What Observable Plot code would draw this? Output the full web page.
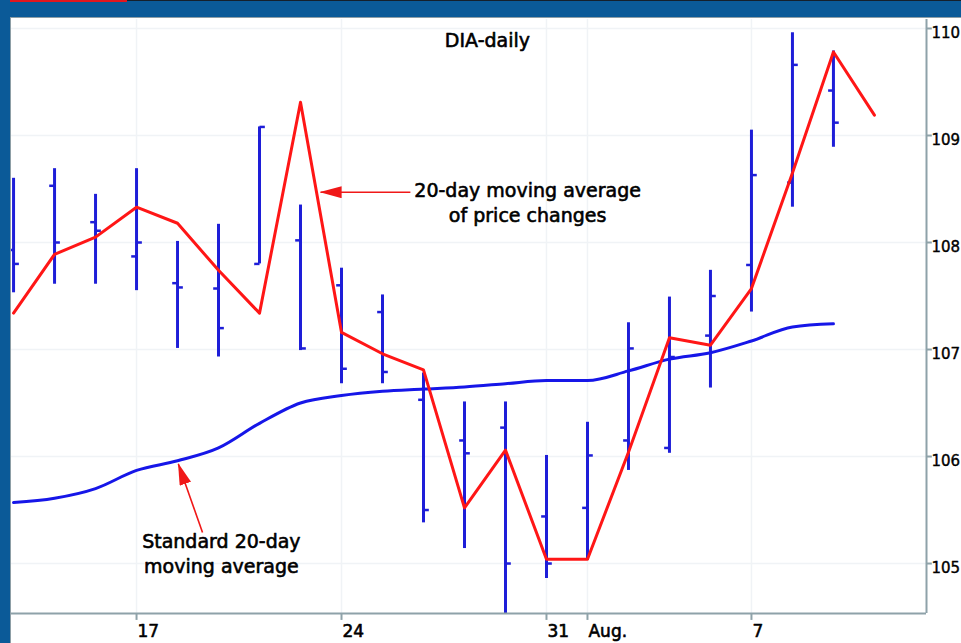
<!DOCTYPE html>
<html>
<head>
<meta charset="utf-8">
<script src="https://cdn.jsdelivr.net/npm/d3@7"></script>
<script src="https://cdn.jsdelivr.net/npm/@observablehq/plot@0.6"></script>
<style>
  body { margin: 0; background: #fff; }
  #wrap { position: relative; width: 961px; height: 643px; overflow: hidden; background: #fff; }
  #chart svg { position: absolute; left: 0; top: 0; }
  .deco { position: absolute; }
</style>
</head>
<body>
<div id="wrap">
  <div id="chart"></div>
  <div class="deco" style="left:0;top:0;width:961px;height:17px;background:#0b5a98;"></div>
  <div class="deco" style="left:0;top:0;width:961px;height:1px;background:#15202c;"></div>
  <div class="deco" style="left:0;top:0;width:127px;height:2px;background:#e3161e;"></div>
  <div class="deco" style="left:0;top:0;width:10px;height:643px;background:#0b5a98;"></div>
  <div class="deco" style="left:10px;top:17px;width:951px;height:1px;background:#8d9ea6;"></div>
  <div class="deco" style="left:10px;top:17px;width:1px;height:626px;background:#8d9ea6;"></div>
</div>
<script>
// ---- data (trading days, July 12 – August 10) ----
const dates = ["Jul 12","Jul 13","Jul 14","Jul 17","Jul 18","Jul 19","Jul 20","Jul 21","Jul 24","Jul 25","Jul 26",
               "Jul 27","Jul 28","Jul 31","Aug 1","Aug 2","Aug 3","Aug 4","Aug 7","Aug 8","Aug 9","Aug 10"];
const openPx  = [107.93,108.53,108.19,107.87,107.62,107.57,107.80,108.02,107.60,107.35,106.53,
                 106.15,106.27,105.44,105.52,106.15,106.08,107.13,107.79,108.56,109.42];
const highPx  = [108.60,108.69,108.45,108.69,108.01,108.17,109.08,108.35,107.76,107.51,106.78,
                 106.51,106.51,106.01,106.32,107.25,107.49,107.74,109.05,109.96,109.79];
const lowPx   = [107.53,107.61,107.61,107.55,107.01,106.93,107.80,106.99,106.68,106.68,105.38,
                 105.14,104.40,104.86,105.03,105.87,106.03,106.64,107.35,108.33,108.89];
const closePx = [107.80,108.00,108.11,108.00,107.58,107.20,109.08,107.01,106.82,106.79,105.50,
                 106.03,105.00,105.00,106.01,107.01,106.93,107.50,108.63,109.66,109.12];
const ma20Std = [105.57,105.61,105.70,105.87,105.96,106.08,106.31,106.50,106.57,106.61,106.63,
                 106.65,106.68,106.71,106.71,106.80,106.91,106.97,107.08,107.21,107.24];
const ma20Chg = [107.34,107.89,108.05,108.33,108.18,107.74,107.34,109.31,107.16,106.96,106.81,
                 105.52,106.06,105.04,105.04,106.04,107.11,107.04,107.57,108.65,109.78,109.19];
const xTickDates  = ["Jul 17","Jul 24","Jul 31","Aug 1","Aug 7"];
const xTickLabels = ["17","24","31","Aug.","7"];
const yTicks = [105,106,107,108,109,110];

const X_DOMAIN = [-0.05, 22.27];
const Y_DOMAIN = [104.533, 110.084];

const titleText = ["DIA-daily"];
const annotations = [
  {i: 12.54, v: 108.19, text: "20-day moving average\nof price changes"},
  {i: 5.07,  v: 104.91, text: "Standard 20-day\nmoving average"}
];
const arrows = [
  {i1: 9.68, v1: 108.47, i2: 7.49, v2: 108.47},
  {i1: 4.61, v1: 105.29, i2: 4.02, v2: 105.93}
];

// ---- tables ----
const bars = highPx.map((h, i) => ({i, date: dates[i], open: openPx[i], high: h, low: lowPx[i], close: closePx[i]}));
const maRows = ma20Std.map((v, i) => ({i, v}));
const chgRows = ma20Chg.map((v, i) => ({i, v}));
const xTicks = xTickDates.map((d, k) => ({i: dates.indexOf(d), label: xTickLabels[k]}));

const barColor = "#1e1ed8";
const maColor = "#1616e8";
const redColor = "#ff1616";
const axisGray = "#8ea2a9";
const gridColor = "#f0f3f6";
const textBold = {fill: "#000", stroke: "#000", strokeWidth: 0.6};

const svg = Plot.plot({
  width: 961,
  height: 643,
  marginLeft: 11,
  marginRight: 35,
  marginTop: 19,
  marginBottom: 30,
  style: {background: "transparent", fontFamily: "DejaVu Sans, sans-serif"},
  x: {domain: X_DOMAIN, axis: null},
  y: {domain: Y_DOMAIN, axis: null},
  marks: [
    Plot.ruleY(yTicks, {y: d => d, stroke: gridColor, strokeWidth: 1.5}),
    Plot.ruleX(xTicks, {x: "i", stroke: gridColor, strokeWidth: 1.5}),
    Plot.ruleX(bars, {x: "i", y1: "low", y2: "high", stroke: barColor, strokeWidth: 3, clip: true}),
    Plot.link(bars, {x1: d => d.i - 0.13, x2: "i", y1: "open", y2: "open", stroke: barColor, strokeWidth: 2.5, clip: true}),
    Plot.link(bars, {x1: "i", x2: d => d.i + 0.13, y1: "close", y2: "close", stroke: barColor, strokeWidth: 2.5, clip: true}),
    Plot.line(maRows, {x: "i", y: "v", stroke: maColor, strokeWidth: 3, curve: "monotone-x", clip: true}),
    Plot.line(chgRows, {x: "i", y: "v", stroke: redColor, strokeWidth: 3, clip: true}),
    // axis lines
    Plot.ruleY([Y_DOMAIN[0]], {stroke: axisGray, strokeWidth: 2}),
    Plot.ruleX([X_DOMAIN[1]], {stroke: axisGray, strokeWidth: 2}),
    // y ticks + labels (right)
    Plot.link(yTicks, {x1: () => X_DOMAIN[1], x2: () => X_DOMAIN[1] + 0.13, y1: d => d, y2: d => d, stroke: axisGray, strokeWidth: 2}),
    Plot.text(yTicks, {y: d => d, text: d => String(d), frameAnchor: "right", textAnchor: "start", dx: 5, dy: 5, fontSize: 15, ...textBold, strokeWidth: 0.4}),
    // x ticks + labels (bottom)
    Plot.link(xTicks, {x1: "i", x2: "i", y1: () => Y_DOMAIN[0], y2: () => Y_DOMAIN[0] - 0.06, stroke: axisGray, strokeWidth: 2}),
    Plot.text(xTicks, {x: "i", text: "label", frameAnchor: "bottom", lineAnchor: "bottom", textAnchor: "start", dx: 1, dy: 23, fontSize: 17, ...textBold}),
    // title & annotations
    Plot.text(titleText, {x: () => 11.56, y: () => 109.83, text: d => d, lineAnchor: "bottom", textAnchor: "middle", fontSize: 19, ...textBold}),
    Plot.text(annotations, {x: "i", y: "v", text: "text", lineAnchor: "bottom", textAnchor: "middle", fontSize: 19, lineHeight: 25 / 19, ...textBold}),
    Plot.link(arrows, {x1: "i1", y1: "v1", x2: "i2", y2: "v2", stroke: "#f01818", strokeWidth: 1.6, ariaDescription: "annotation-arrow"})
  ]
});

// filled arrowheads
const sel = d3.select(svg);
const defs = sel.append("defs");
defs.append("marker")
  .attr("id", "triHead")
  .attr("viewBox", "0 -6 22 12")
  .attr("refX", 21).attr("refY", 0)
  .attr("markerWidth", 22).attr("markerHeight", 12)
  .attr("markerUnits", "userSpaceOnUse")
  .attr("orient", "auto")
  .append("path").attr("d", "M0,-6L22,0L0,6Z").attr("fill", "#f01818").attr("stroke", "none");
let arrowG = sel.select('g[aria-description="annotation-arrow"]');
if (arrowG.empty()) {
  const linkGroups = sel.selectAll('g[aria-label="link"]').nodes();
  arrowG = d3.select(linkGroups[linkGroups.length - 1]);
}
arrowG.selectAll("path").attr("marker-end", "url(#triHead)");

document.getElementById("chart").appendChild(svg);
</script>
</body>
</html>
